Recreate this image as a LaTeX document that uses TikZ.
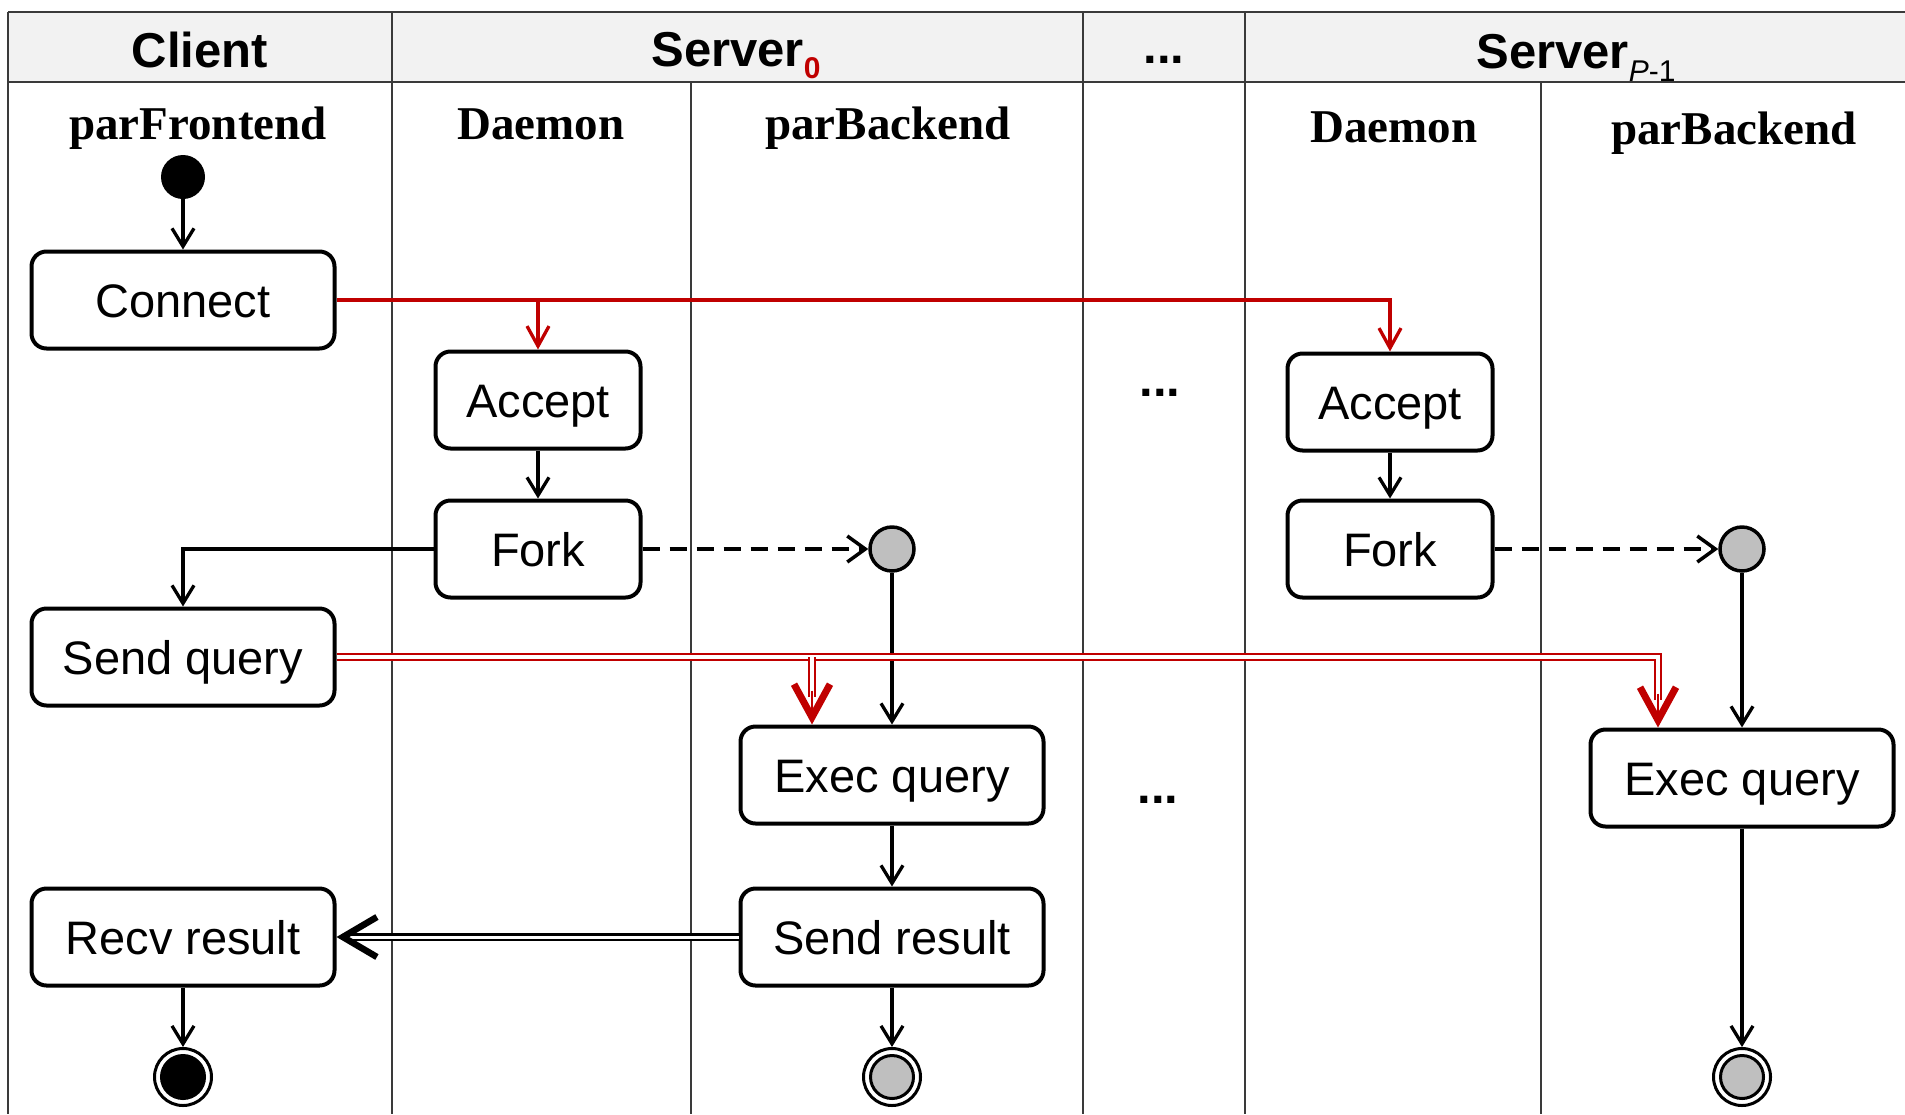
\documentclass[tikz,border=0pt]{standalone}
\usepackage{fontspec}
\setmainfont{Liberation Sans}
\newfontfamily\lanefont{Liberation Serif}
\usetikzlibrary{arrows.meta}
\definecolor{ured}{HTML}{C00000}
\definecolor{ugray}{HTML}{BFBFBF}
\definecolor{hdrfill}{HTML}{F2F2F2}
\definecolor{laneline}{HTML}{3A3A3A}
\begin{document}
\begin{tikzpicture}[x=1pt,y=-1pt,
  box/.style={draw, rounded corners=15pt, line width=4pt, minimum width=303pt, minimum height=97pt, inner sep=0pt, text height=34pt, text depth=0pt, font=\fontsize{47}{56}\selectfont, fill=white},
  sbox/.style={box, minimum width=205pt},
  hdr/.style={font=\fontsize{49}{58}\selectfont\bfseries, inner sep=0pt},
  lane/.style={font=\lanefont\bfseries\fontsize{47}{56}\selectfont, inner sep=0pt},
  flow/.style={line width=3.5pt, -{Straight Barb[length=18pt,width=22pt,line width=3.3pt]}},
  redflow/.style={ured, line width=3.5pt, -{Straight Barb[length=20pt,width=22pt,line width=3.3pt]}},
  reddouble/.style={draw=ured, double=white, line width=2.5pt, double distance=3.8pt},
  redtip/.style={ured, line width=2pt, -{Straight Barb[length=33pt,width=36pt,line width=7pt]}},
  blackdouble/.style={draw=black, double=white, line width=2.5pt, double distance=3pt, -{Straight Barb[length=34pt,width=40pt,line width=6.5pt]}},
  dashflow/.style={line width=4pt, dash pattern=on 17pt off 10pt, -{Straight Barb[length=18pt,width=26pt,line width=3.5pt]}},
  laneln/.style={draw=laneline, line width=1.6pt},
  hline/.style={draw=laneline, line width=2.5pt},
  startnode/.style={circle, fill=black, minimum size=44pt, inner sep=0pt},
  forknode/.style={circle, fill=ugray, draw=black, line width=3.5pt, minimum size=44pt, inner sep=0pt},
  endnode/.style={circle, draw=black, line width=3pt, fill=white, minimum size=57pt, inner sep=0pt,
    path picture={\filldraw[fill=#1, draw=black, line width=3pt] (path picture bounding box.center) circle (21.5pt);}},
  dots/.style={font=\fontsize{49}{58}\selectfont\bfseries, inner sep=0pt, anchor=base}
]
\useasboundingbox (0,0) rectangle (1905,1114);
\fill[white] (0,0) rectangle (1905,1114);
% header
\fill[hdrfill] (8,12) rectangle (1905,82);
\draw[hline] (8,12) -- (1905,12);
\draw[hline] (8,82) -- (1905,82);
% lanes
\draw[laneln] (8,12) -- (8,1114);
\draw[laneln] (392,12) -- (392,1114);
\draw[laneln] (691,82) -- (691,1114);
\draw[laneln] (1083,12) -- (1083,1114);
\draw[laneln] (1245,12) -- (1245,1114);
\draw[laneln] (1541,82) -- (1541,1114);
% header texts
\node[hdr, anchor=base] (hc) at (200,67) {Client};
\node[hdr, anchor=base] (hs0) at (736,66) {Server\raisebox{-12pt}{\fontsize{30}{30}\selectfont\color{ured}0}};
\node[dots] (hdots) at (1164,63) {...};
\node[hdr, anchor=base] (hsp) at (1576,68) {Server\raisebox{-13pt}{\fontsize{30}{30}\selectfont\mdseries\itshape P\upshape -1}};
% lane labels
\node[lane, anchor=base] (lf) at (198,139) {parFrontend};
\node[lane, anchor=base] (ld0) at (541,139) {Daemon};
\node[lane, anchor=base] (lb0) at (888,139) {parBackend};
\node[lane, anchor=base] (ldp) at (1394,142) {Daemon};
\node[lane, anchor=base] (lbp) at (1734,144) {parBackend};
% body dots
\node[dots] (d1) at (1160,396) {...};
\node[dots] (d2) at (1158,803) {...};
% client
\node[startnode] (st) at (183,177) {};
\node[box] (con) at (183,300) {Connect};
\node[box] (sq) at (183,657) {Send query};
\node[box] (rr) at (183,937) {Recv result};
\node[endnode=black] (e1) at (183,1077) {};
% server 0
\node[sbox] (acc0) at (538,400) {Accept};
\node[sbox] (fk0) at (538,549) {Fork};
\node[forknode] (c0) at (892,549) {};
\node[box] (ex0) at (892,775) {Exec query};
\node[box] (sr0) at (892,937) {Send result};
\node[endnode=ugray] (e0) at (892,1077) {};
% server P-1
\node[sbox] (accp) at (1390,402) {Accept};
\node[sbox] (fkp) at (1390,549) {Fork};
\node[forknode] (cp) at (1742,549) {};
\node[box] (exp) at (1742,778) {Exec query};
\node[endnode=ugray] (ep) at (1742,1077) {};
% connectors
\draw[flow] (st) -- (con);
\draw[redflow] (con.east) -| (accp.north);
\draw[redflow] (con.east -| acc0.north) -- (acc0.north);
\draw[flow] (acc0) -- (fk0);
\draw[flow] (accp) -- (fkp);
\draw[flow] (fk0.west) -| (sq.north);
\draw[dashflow] (fk0.east) -- (c0.west);
\draw[dashflow] (fkp.east) -- (cp.west);
\draw[flow] (c0) -- (ex0);
\draw[flow] (cp) -- (exp);
\draw[reddouble] (sq.east) -| ([xshift=-84pt,yshift=28pt]exp.north);
\draw[reddouble] ([xshift=-80pt]ex0.north |- sq.east) -- ([xshift=-80pt,yshift=28pt]ex0.north);
\draw[redtip] ([xshift=-84pt,yshift=34pt]exp.north) -- ([xshift=-84pt]exp.north);
\draw[redtip] ([xshift=-80pt,yshift=34pt]ex0.north) -- ([xshift=-80pt]ex0.north);
\draw[flow] (ex0) -- (sr0);
\draw[blackdouble] (sr0.west) -- (rr.east);
\draw[flow] (rr) -- (e1);
\draw[flow] (sr0) -- (e0);
\draw[flow] (exp) -- (ep);
\end{tikzpicture}
\end{document}
